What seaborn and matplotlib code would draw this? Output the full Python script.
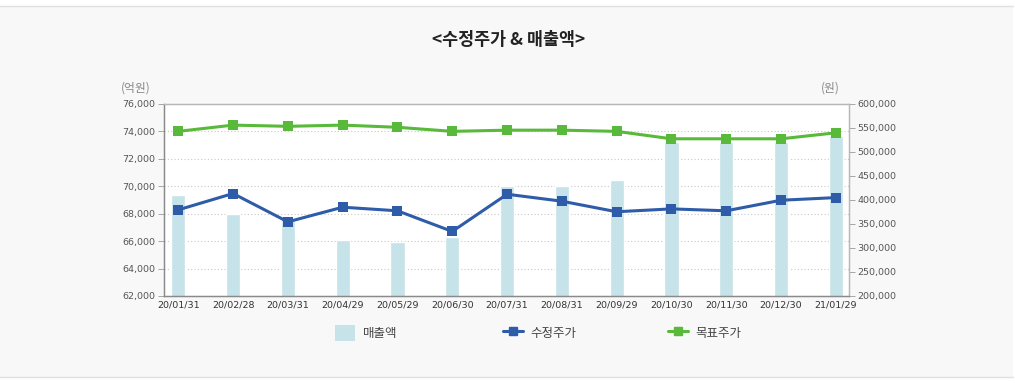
import numpy as np
import pandas as pd
import matplotlib.pyplot as plt
import matplotlib.patches as mpatches
from matplotlib.lines import Line2D
from matplotlib.ticker import FuncFormatter
import seaborn as sns

# 데이터
dates = ['20/01/31', '20/02/28', '20/03/31', '20/04/29', '20/05/29', '20/06/30', '20/07/31',
         '20/08/31', '20/09/29', '20/10/30', '20/11/30', '20/12/30', '21/01/29']
revenue = [69400, 68000, 67600, 66100, 65950, 66300, 70000, 70000, 70450, 73250, 73250, 73250, 73700]
adj_price = [379500, 413500, 354500, 385000, 377500, 334500, 412000, 397500, 375500, 381500, 377500, 399500, 405000]
target_price = [543000, 556000, 553500, 556000, 551500, 543000, 545500, 545500, 543000, 527500, 527500, 527500, 540000]

df = pd.DataFrame({'date': dates, 'revenue': revenue, 'adj': adj_price, 'target': target_price})
df['pos'] = np.arange(len(df))

sns.set_style('white')
plt.rcParams['font.family'] = ['Noto Sans CJK KR', 'DejaVu Sans']
plt.rcParams['axes.unicode_minus'] = False

fig = plt.figure(figsize=(10.15, 3.83), dpi=100)
fig.patch.set_facecolor('white')

# 바깥 배경 박스
bg = mpatches.Rectangle((0, 6 / 383), 1013 / 1015, 371 / 383, transform=fig.transFigure,
                        facecolor='#f8f8f8', edgecolor='none', zorder=-10)
fig.patches.append(bg)
for yy in (6 / 383, 377 / 383):
    fig.add_artist(Line2D([0, 1013 / 1015], [yy, yy], transform=fig.transFigure,
                          color='#e0e0e0', linewidth=1))

ax = fig.add_axes([164 / 1015, 87 / 383, 685 / 1015, 192 / 383])
ax.set_facecolor('white')

bar_color = '#c5e3e8'
blue = '#2f5ca8'
green = '#58b93a'

sns.barplot(data=df, x='date', y='revenue', color=bar_color, width=0.26, ax=ax,
            saturation=1, zorder=2)
ax.set_ylim(62000, 76000)
ax.set_yticks(np.arange(62000, 76001, 2000))
ax.yaxis.set_major_formatter(FuncFormatter(lambda v, p: f'{int(v):,}'))
ax.set_xlim(-0.26, 12.24)
ax.grid(axis='y', color='#c8c8c8', linestyle=(0, (1, 2)), linewidth=0.8, zorder=0)
ax.set_axisbelow(True)
ax.set_xlabel('')
ax.set_ylabel('')

ax2 = ax.twinx()
sns.lineplot(data=df, x='pos', y='target', color=green, marker='s', markersize=7,
             markeredgewidth=0, linewidth=2.2, ax=ax2, zorder=3)
sns.lineplot(data=df, x='pos', y='adj', color=blue, marker='s', markersize=7,
             markeredgewidth=0, linewidth=2.2, ax=ax2, zorder=3)
ax2.set_ylim(200000, 600000)
ax2.set_yticks(np.arange(200000, 600001, 50000))
ax2.yaxis.set_major_formatter(FuncFormatter(lambda v, p: f'{int(v):,}'))
ax2.set_xlim(-0.26, 12.24)
ax2.set_xlabel('')
ax2.set_ylabel('')

for a in (ax, ax2):
    for side in ('left', 'bottom'):
        a.spines[side].set_color('#8a8a8a')
    for side in ('top', 'right'):
        a.spines[side].set_color('#b8b8b8')
    for sp in a.spines.values():
        sp.set_linewidth(0.9)

ax.tick_params(axis='y', labelsize=6.8, colors='#999999', labelcolor='#555555', length=4, width=0.6, pad=2)
ax.tick_params(axis='x', labelsize=6.8, colors='#333333', length=0, pad=3)
ax2.tick_params(axis='y', labelsize=6.8, colors='#999999', labelcolor='#555555', length=4, width=0.6, pad=2)
for lbl in ax.get_xticklabels() + ax.get_yticklabels() + ax2.get_yticklabels():
    lbl.set_family(['DejaVu Sans'])

# 단위
fig.text(136 / 1015, 1 - 88 / 383, '(억원)', fontsize=8.5, color='#888888', ha='center', va='center')
fig.text(830 / 1015, 1 - 88 / 383, '(원)', fontsize=8.5, color='#888888', ha='center', va='center')

# 제목
fig.text(509 / 1015, 1 - 40 / 383, '<수정주가 & 매출액>', fontsize=12.5, color='#222222',
         fontweight='bold', ha='center', va='center')

# 범례 (항목별 위치)
items = [
    (mpatches.Patch(facecolor=bar_color, edgecolor='none', label='매출액'), 335),
    (Line2D([0], [0], color=blue, marker='s', markersize=6, linewidth=2.2, label='수정주가'), 503),
    (Line2D([0], [0], color=green, marker='s', markersize=6, linewidth=2.2, label='목표주가'), 668),
]
for h, xpos in items:
    leg = fig.legend(handles=[h], loc='center left', bbox_to_anchor=(xpos / 1015, 1 - 333 / 383),
                     frameon=False, fontsize=9, handlelength=1.6, handleheight=1.6,
                     handletextpad=0.6, borderpad=0, borderaxespad=0)
    for t in leg.get_texts():
        t.set_color('#444444')

fig.savefig('out.png', dpi=100)
